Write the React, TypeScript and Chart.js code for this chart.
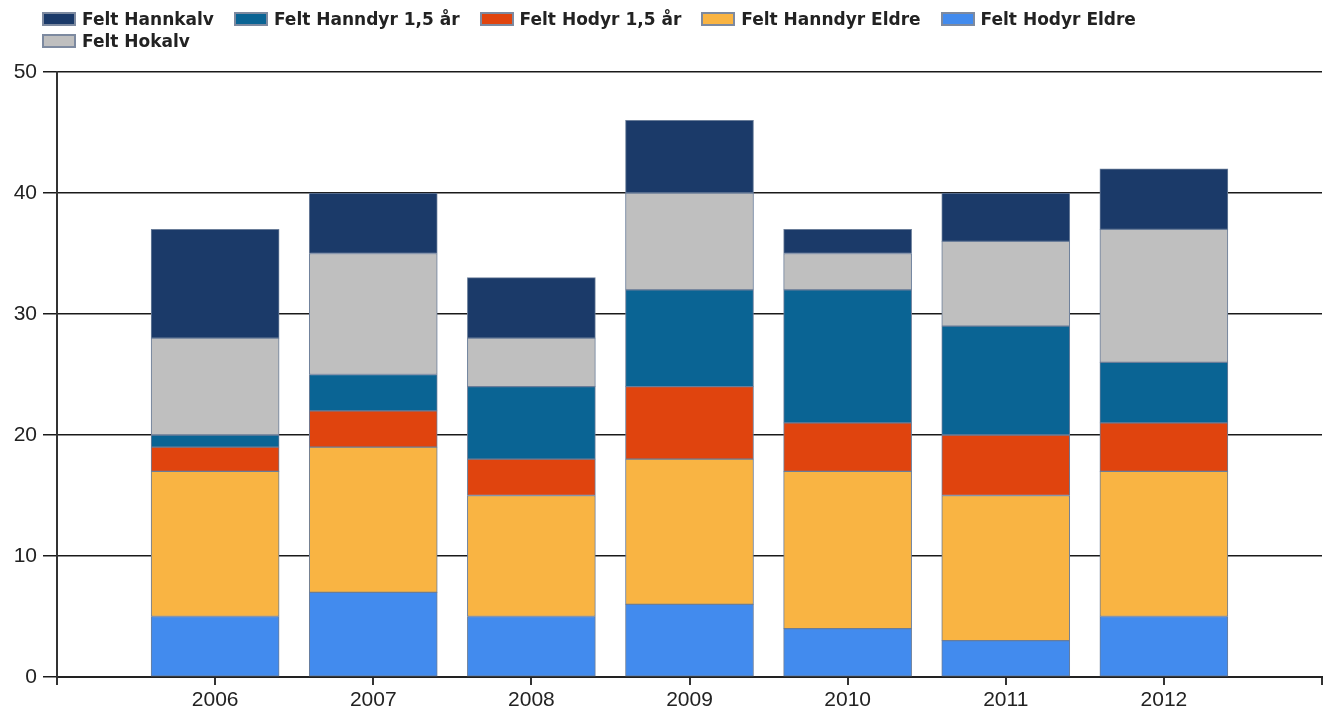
import React, { useEffect, useRef } from 'react';
import { Chart, registerables } from 'chart.js';

Chart.register(...registerables);

// Categories
const years = ['2006', '2007', '2008', '2009', '2010', '2011', '2012'];

// Series values (stack order, bottom first)
const hodyrEldre = [5, 7, 5, 6, 4, 3, 5];
const hanndyrEldre = [12, 12, 10, 12, 13, 12, 12];
const hodyr15 = [2, 3, 3, 6, 4, 5, 4];
const hanndyr15 = [1, 3, 6, 8, 11, 9, 5];
const hokalv = [8, 10, 4, 8, 3, 7, 11];
const hannkalv = [9, 5, 5, 6, 2, 4, 5];

// Y tick labels
const yTicks = [0, 10, 20, 30, 40, 50];

const seriesNames = [
  'Felt Hodyr Eldre',
  'Felt Hanndyr Eldre',
  'Felt Hodyr 1,5 år',
  'Felt Hanndyr 1,5 år',
  'Felt Hokalv',
  'Felt Hannkalv',
];
const seriesValues = [hodyrEldre, hanndyrEldre, hodyr15, hanndyr15, hokalv, hannkalv];
const seriesColors = ['#428bee', '#f9b443', '#e0440e', '#0a6494', '#bfbfbf', '#1b3a69'];
// legend order (indices into series)
const legendOrder = [5, 3, 2, 1, 0, 4];

export default function App() {
  const canvasRef = useRef<HTMLCanvasElement | null>(null);

  useEffect(() => {
    if (!canvasRef.current) return;
    const labels = ['', ...years, ''];
    const pad = (a: number[]) => [null, ...a, null];
    const chart = new Chart(canvasRef.current, {
      type: 'bar',
      data: {
        labels,
        datasets: seriesNames.map((name, i) => ({
          label: name,
          data: pad(seriesValues[i]) as any,
          backgroundColor: seriesColors[i],
          borderColor: '#6a7d99',
          borderWidth: 1,
          borderSkipped: false,
          barThickness: 128,
        })),
      },
      options: {
        animation: false,
        responsive: true,
        maintainAspectRatio: false,
        layout: { padding: { top: 72, right: 9, left: 0, bottom: 0 } },
        plugins: {
          legend: { display: false },
          title: { display: false },
          tooltip: { enabled: false },
        },
        scales: {
          x: {
            type: 'category',
            stacked: true,
            offset: false,
            grid: {
              display: true,
              drawOnChartArea: false,
              drawTicks: true,
              tickLength: 8,
              color: '#333',
              lineWidth: 2,
              offset: false,
            },
            border: { display: true, color: '#222', width: 2 },
            ticks: {
              autoSkip: false,
              maxRotation: 0,
              font: { family: 'Liberation Sans', size: 21 },
              color: '#222',
              padding: 3,
            },
            afterFit: (s: any) => {
              s.height = 36;
            },
          },
          y: {
            type: 'linear',
            stacked: true,
            min: yTicks[0],
            max: yTicks[yTicks.length - 1],
            ticks: {
              stepSize: 10,
              font: { family: 'Liberation Sans', size: 21 },
              color: '#222',
              padding: 6,
            },
            grid: {
              color: '#1a1a1a',
              lineWidth: 1.5,
              tickLength: 14,
            },
            border: { display: true, color: '#333', width: 2 },
            afterFit: (s: any) => {
              s.width = 57;
            },
          },
        },
      },
    });
    return () => chart.destroy();
  }, []);

  return (
    <div style={{ position: 'fixed', left: 0, top: 0, width: 1331, height: 713, background: '#fff' }}>
      <canvas ref={canvasRef} style={{ width: '100%', height: '100%' }} />
      <div
        style={{
          position: 'absolute',
          left: 42,
          top: 12,
          width: 1120,
          display: 'flex',
          flexWrap: 'wrap',
          columnGap: 20,
          rowGap: 8,
        }}
      >
        {legendOrder.map((i) => (
          <div key={i} style={{ display: 'flex', alignItems: 'center', height: 14, gap: 6 }}>
            <span
              style={{
                display: 'inline-block',
                width: 34,
                height: 14,
                boxSizing: 'border-box',
                border: '2px solid #7d8aa0',
                background: seriesColors[i],
              }}
            />
            <span
              style={{
                fontFamily: '"DejaVu Sans", sans-serif',
                fontWeight: 'bold',
                fontSize: 17,
                lineHeight: '14px',
                color: '#222',
                whiteSpace: 'nowrap',
              }}
            >
              {seriesNames[i]}
            </span>
          </div>
        ))}
      </div>
    </div>
  );
}
